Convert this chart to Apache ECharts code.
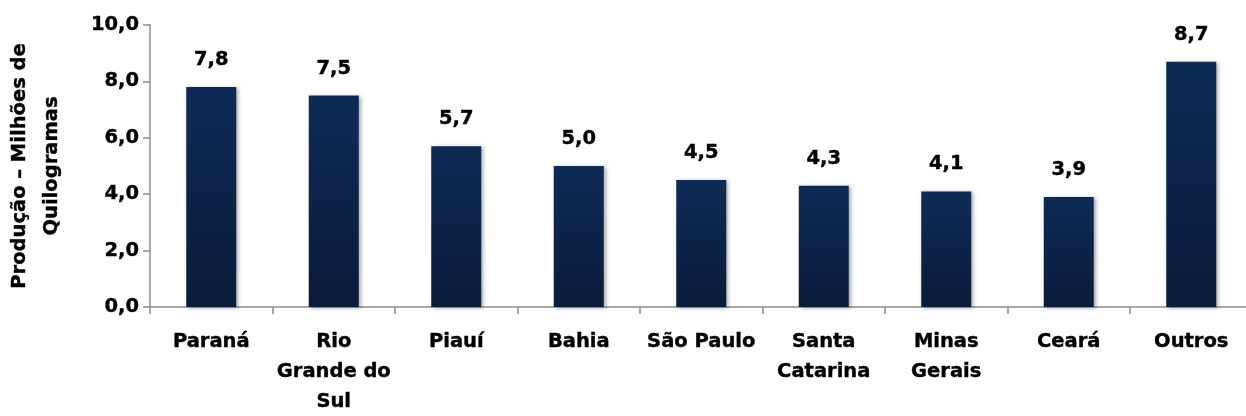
<!DOCTYPE html>
<html><head><meta charset="utf-8">
<script src="https://cdn.jsdelivr.net/npm/echarts@6/dist/echarts.min.js"></script>
<style>html,body{margin:0;padding:0;background:#fff}#c{width:1246px;height:416px}</style>
</head><body><div id="c"></div>
<script>
const categories = ['Paraná', 'Rio\nGrande do\nSul', 'Piauí', 'Bahia', 'São Paulo', 'Santa\nCatarina', 'Minas\nGerais', 'Ceará', 'Outros'];
const values = [7.8, 7.5, 5.7, 5.0, 4.5, 4.3, 4.1, 3.9, 8.7];
const yTicks = { min: 0, max: 10, interval: 2 };
const yName = 'Produção – Milhões de\nQuilogramas';

const FONT = 'DejaVu Sans';
const FS = 19.5;
const txt = { color: '#000', fontFamily: FONT, fontWeight: 'bold', fontSize: FS, textBorderColor: '#000', textBorderWidth: 0.4 };
const chart = echarts.init(document.getElementById('c'));
chart.setOption({
  animation: false,
  grid: { left: 150, right: -6.5, top: 25, bottom: 109, outerBoundsMode: 'none', containLabel: false },
  xAxis: {
    type: 'category', data: categories,
    axisLine: { lineStyle: { color: '#8c8c8c', width: 1.5 } },
    axisTick: { show: true, length: 7, lineStyle: { color: '#8c8c8c', width: 1.5 } },
    axisLabel: Object.assign({ interval: 0, lineHeight: 30, margin: 20 }, txt)
  },
  yAxis: {
    type: 'value', min: yTicks.min, max: yTicks.max, interval: yTicks.interval,
    name: yName, nameLocation: 'middle', nameGap: 82, nameRotate: 90,
    nameTextStyle: Object.assign({ lineHeight: 32 }, txt),
    axisLine: { show: true, lineStyle: { color: '#8c8c8c', width: 1.5 } },
    axisTick: { show: true, length: 7, lineStyle: { color: '#8c8c8c', width: 1.5 } },
    splitLine: { show: false },
    axisLabel: Object.assign({ margin: 11, formatter: v => v.toFixed(1).replace('.', ',') }, txt)
  },
  series: [{
    type: 'bar', data: values, barWidth: 50,
    itemStyle: {
      color: new echarts.graphic.LinearGradient(0, 0, 0, 1, [
        { offset: 0, color: '#0e2b57' }, { offset: 1, color: '#0a1c3b' }
      ]),
      shadowColor: 'rgba(0,0,0,0.35)', shadowBlur: 4, shadowOffsetX: 2, shadowOffsetY: 1
    },
    label: Object.assign({ show: true, position: 'top', distance: 17,
      formatter: p => p.value.toFixed(1).replace('.', ',') }, txt)
  }]
});
</script></body></html>
